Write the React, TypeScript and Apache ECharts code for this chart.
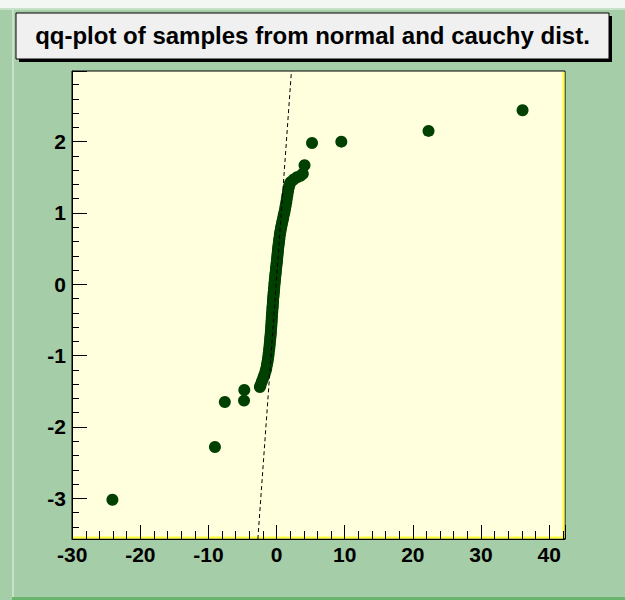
import React, { useEffect, useRef } from "react";
import * as echarts from "echarts";

const titleText = "qq-plot of samples from normal and cauchy dist.";

// sorted cauchy sample (x) and sorted normal sample (y)
const cauchySorted = [
  -24.1, -9.05, -7.6, -4.78, -4.74,
  -2.45, -2.35, -2.15, -1.95, -1.8, -1.62, -1.52, -1.42, -1.34, -1.27,
  -1.21, -1.16, -1.1, -1.06, -1.02, -0.99, -0.95, -0.92, -0.89, -0.86,
  -0.84, -0.81, -0.78, -0.76, -0.74, -0.72, -0.71, -0.69, -0.67, -0.64,
  -0.62, -0.6, -0.58, -0.56, -0.54, -0.52, -0.5, -0.47, -0.45, -0.43,
  -0.4, -0.38, -0.35, -0.33, -0.31, -0.28, -0.26, -0.23, -0.2, -0.17,
  -0.14, -0.11, -0.08, -0.05, -0.02, 0.01, 0.04, 0.07, 0.1, 0.13,
  0.16, 0.19, 0.22, 0.26, 0.3, 0.34, 0.38, 0.42, 0.47, 0.52,
  0.58, 0.65, 0.72, 0.8, 0.88, 0.96, 1.05, 1.15, 1.25, 1.33,
  1.42, 1.5, 1.58, 1.68, 1.8, 1.9,
  2.05, 2.5, 3.0, 3.5, 3.85, 4.1,
  5.2, 9.5, 22.3, 36.1,
];
const normalSorted = [
  -3.02, -2.28, -1.65, -1.63, -1.48,
  -1.44, -1.41, -1.36, -1.31, -1.27, -1.22, -1.18, -1.13, -1.09, -1.05,
  -1.01, -0.97, -0.92, -0.89, -0.85, -0.82, -0.78, -0.75, -0.72, -0.69,
  -0.66, -0.62, -0.59, -0.56, -0.53, -0.5, -0.47, -0.44, -0.42, -0.39,
  -0.36, -0.33, -0.31, -0.28, -0.25, -0.23, -0.2, -0.17, -0.15, -0.12,
  -0.1, -0.07, -0.05, -0.02, 0.01, 0.03, 0.06, 0.08, 0.11, 0.14,
  0.16, 0.19, 0.22, 0.24, 0.27, 0.3, 0.32, 0.35, 0.38, 0.41,
  0.44, 0.47, 0.5, 0.53, 0.56, 0.59, 0.62, 0.65, 0.69, 0.72,
  0.75, 0.79, 0.82, 0.86, 0.89, 0.93, 0.97, 1.01, 1.06, 1.1,
  1.15, 1.2, 1.25, 1.3, 1.36, 1.4,
  1.43, 1.47, 1.5, 1.52, 1.55, 1.67,
  1.98, 2.0, 2.15, 2.44,
];

// quartile reference line (dashed)
const refLineX = [-2.75, 2.18];
const refLineY = [-3.57, 2.99];

const xRange = [-30.03, 42.33];
const yRange = [-3.57, 2.99];

const FONT = "'Liberation Sans', Arial, Helvetica, sans-serif";

export default function App() {
  const ref = useRef<HTMLDivElement>(null);
  useEffect(() => {
    document.body.style.margin = "0";
    const chart = echarts.init(ref.current!, null, { renderer: "svg" });
    const points = cauchySorted.map((x, i) => [x, normalSorted[i]]);
    const refLine = refLineX.map((x, i) => [x, refLineY[i]]);
    const labelStyle = {
      fontFamily: FONT,
      fontWeight: "bold" as const,
      fontSize: 21,
      color: "#000",
    };
    const fmt = (step: number) => (v: number) => {
      const r = Math.round(v / step) * step;
      return Math.abs(v - r) < 1e-6 ? String(Math.round(r)) : "";
    };
    chart.setOption({
      animation: false,
      backgroundColor: "#a5cda7",
      title: {
        text: titleText,
        left: "center",
        top: 23,
        padding: 0,
        textStyle: {
          fontFamily: FONT,
          fontWeight: "bold",
          fontSize: 24,
          color: "#000",
        },
      },
      graphic: [
        { type: "rect", shape: { x: 0, y: 0, width: 625, height: 8 }, style: { fill: "#f3f7f3" }, z: -5 },
        { type: "rect", shape: { x: 0, y: 8, width: 625, height: 2 }, style: { fill: "#c8e2c9" }, z: -5 },
        { type: "rect", shape: { x: 12, y: 8, width: 2, height: 592 }, style: { fill: "#c8e2c9" }, z: -5 },
        { type: "rect", shape: { x: 12, y: 597, width: 613, height: 3 }, style: { fill: "#6ab56d" }, z: -5 },
        { type: "rect", shape: { x: 19, y: 16, width: 593, height: 46 }, style: { fill: "#000" }, z: 1 },
        { type: "rect", shape: { x: 16, y: 13, width: 593, height: 46 }, style: { fill: "#f0f0f0", stroke: "#000", lineWidth: 1 }, z: 2 },
        { type: "line", shape: { x1: 73, y1: 537.5, x2: 564, y2: 537.5 }, style: { stroke: "#ffff33", lineWidth: 2 }, z: 3 },
        { type: "line", shape: { x1: 563.5, y1: 72, x2: 563.5, y2: 538 }, style: { stroke: "#ffff33", lineWidth: 2 }, z: 3 },
      ],
      grid: {
        left: 72,
        right: 60,
        top: 71,
        bottom: 61,
        show: true,
        backgroundColor: "#ffffdd",
        borderColor: "#000",
        borderWidth: 1,
      },
      xAxis: [
        {
          type: "value",
          min: xRange[0],
          max: xRange[1],
          minInterval: 2,
          maxInterval: 2,
          position: "bottom",
          z: 5,
          axisLine: { show: true, onZero: false, lineStyle: { color: "#000", width: 1 } },
          axisTick: { show: true, inside: true, length: 8, lineStyle: { color: "#000" } },
          axisLabel: { show: false },
          splitLine: { show: false },
        },
        {
          type: "value",
          min: xRange[0],
          max: xRange[1],
          minInterval: 10,
          maxInterval: 10,
          position: "bottom",
          z: 5,
          axisLine: { show: false, onZero: false },
          axisTick: { show: true, inside: true, length: 14, lineStyle: { color: "#000" } },
          axisLabel: { show: true, margin: 5, formatter: fmt(10), ...labelStyle },
          splitLine: { show: false },
        },
      ],
      yAxis: [
        {
          type: "value",
          min: yRange[0],
          max: yRange[1],
          minInterval: 0.2,
          maxInterval: 0.2,
          position: "left",
          axisLine: { show: true, onZero: false, lineStyle: { color: "#000", width: 1 } },
          axisTick: { show: true, inside: true, length: 7, lineStyle: { color: "#000" } },
          axisLabel: { show: false },
          splitLine: { show: false },
        },
        {
          type: "value",
          min: yRange[0],
          max: yRange[1],
          minInterval: 1,
          maxInterval: 1,
          position: "left",
          axisLine: { show: false, onZero: false },
          axisTick: { show: true, inside: true, length: 15, lineStyle: { color: "#000" } },
          axisLabel: { show: true, margin: 6, formatter: fmt(1), ...labelStyle },
          splitLine: { show: false },
        },
      ],
      series: [
        {
          type: "scatter",
          xAxisIndex: 0,
          yAxisIndex: 0,
          data: points,
          symbol: "circle",
          symbolSize: 12,
          itemStyle: { color: "#004000", opacity: 1 },
          silent: true,
        },
        {
          type: "line",
          xAxisIndex: 0,
          yAxisIndex: 0,
          data: refLine,
          symbol: "none",
          lineStyle: { color: "#000", width: 1, type: [4, 3] },
          silent: true,
        },
      ],
    });
    return () => chart.dispose();
  }, []);
  return (
    <div
      ref={ref}
      style={{ position: "absolute", left: 0, top: 0, width: 625, height: 600 }}
    />
  );
}
